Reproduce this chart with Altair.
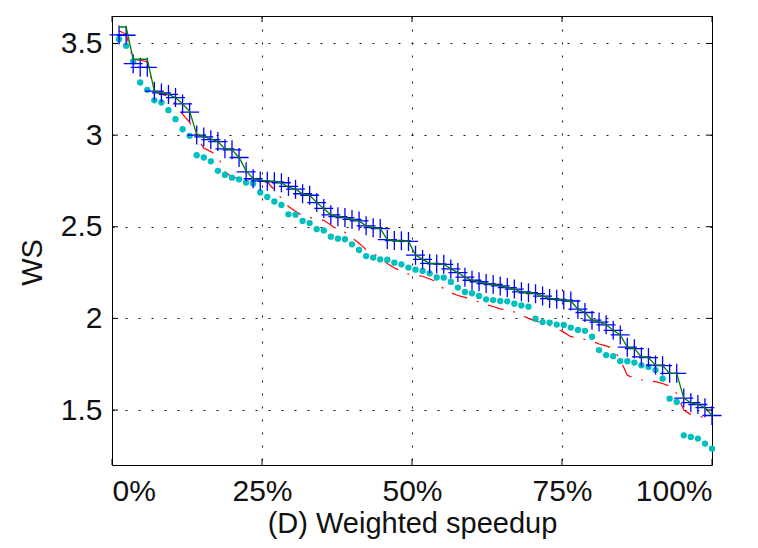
import altair as alt
import pandas as pd

N = 85
rank_pct = [i / N for i in range(1, N + 1)]

ws_plus = [3.547, 3.545, 3.39, 3.37, 3.37, 3.24, 3.23, 3.222, 3.205, 3.17,
           3.125, 3.0, 2.99, 2.975, 2.965, 2.925, 2.92, 2.878, 2.80, 2.762,
           2.75, 2.748, 2.745, 2.74, 2.72, 2.705, 2.68, 2.672, 2.632, 2.60,
           2.565, 2.555, 2.55, 2.54, 2.532, 2.505, 2.495, 2.49, 2.43, 2.425,
           2.423, 2.42, 2.345, 2.322, 2.30, 2.297, 2.295, 2.27, 2.25, 2.225,
           2.208, 2.2, 2.19, 2.185, 2.177, 2.168, 2.16, 2.145, 2.14, 2.135,
           2.122, 2.108, 2.104, 2.1, 2.095, 2.05, 2.032, 1.99, 1.98, 1.965,
           1.935, 1.91, 1.843, 1.835, 1.79, 1.786, 1.745, 1.742, 1.70, 1.70,
           1.565, 1.54, 1.53, 1.513, 1.47]

ws_line = [3.59, 3.59, 3.414, 3.414, 3.414, 3.24, 3.23, 3.222, 3.205, 3.17,
           3.13, 3.005, 2.99, 2.98, 2.965, 2.925, 2.92, 2.878, 2.805, 2.762,
           2.755, 2.75, 2.748, 2.74, 2.715, 2.705, 2.68, 2.672, 2.632, 2.60,
           2.565, 2.555, 2.55, 2.54, 2.532, 2.505, 2.495, 2.49, 2.43, 2.425,
           2.423, 2.42, 2.345, 2.322, 2.30, 2.297, 2.295, 2.27, 2.25, 2.225,
           2.208, 2.2, 2.19, 2.185, 2.177, 2.168, 2.16, 2.145, 2.14, 2.135,
           2.122, 2.108, 2.104, 2.1, 2.095, 2.05, 2.032, 1.99, 1.98, 1.965,
           1.935, 1.91, 1.843, 1.835, 1.79, 1.786, 1.745, 1.742, 1.70, 1.70,
           1.565, 1.54, 1.53, 1.513, 1.47]

ws_dashdot = [3.57, 3.55, 3.41, 3.41, 3.40, 3.24, 3.225, 3.21, 3.17, 3.115,
              3.07, 2.99, 2.93, 2.91, 2.885, 2.80, 2.77, 2.765, 2.76, 2.755,
              2.75, 2.745, 2.70, 2.655, 2.61, 2.585, 2.56, 2.55, 2.545, 2.535,
              2.51, 2.48, 2.47, 2.44, 2.41, 2.375, 2.355, 2.33, 2.30, 2.275,
              2.258, 2.242, 2.235, 2.23, 2.215, 2.20, 2.16, 2.14, 2.125, 2.115,
              2.10, 2.09, 2.075, 2.065, 2.052, 2.045, 2.035, 2.02, 2.0, 1.985,
              1.975, 1.96, 1.945, 1.925, 1.90, 1.893, 1.885, 1.875, 1.86, 1.85,
              1.835, 1.775, 1.69, 1.675, 1.665, 1.66, 1.655, 1.645, 1.63, 1.59,
              1.50, 1.475, 1.465, 1.46, 1.45]

ws_dots = [3.523, 3.487, 3.402, 3.287, 3.247, 3.19, 3.178, 3.136, 3.087, 3.032,
           2.996, 2.89, 2.878, 2.857, 2.805, 2.783, 2.768, 2.759, 2.741, 2.736,
           2.687, 2.663, 2.638, 2.619, 2.568, 2.566, 2.532, 2.52, 2.487, 2.48,
           2.446, 2.435, 2.432, 2.404, 2.373, 2.34, 2.332, 2.322, 2.32, 2.304,
           2.295, 2.277, 2.266, 2.259, 2.246, 2.223, 2.222, 2.199, 2.168, 2.144,
           2.137, 2.122, 2.104, 2.1, 2.095, 2.093, 2.08, 2.071, 2.064, 1.998,
           1.98, 1.977, 1.966, 1.964, 1.95, 1.937, 1.932, 1.90, 1.827, 1.80,
           1.794, 1.767, 1.766, 1.759, 1.744, 1.735, 1.718, 1.671, 1.562, 1.544,
           1.362, 1.353, 1.344, 1.317, 1.289]

x_ticks = [0, 0.25, 0.5, 0.75, 1.0]
y_ticks = [1.5, 2.0, 2.5, 3.0, 3.5]

df = pd.DataFrame({"x": rank_pct, "plus": ws_plus, "line": ws_line,
                   "dashdot": ws_dashdot, "dots": ws_dots})
xt_df = pd.DataFrame({"xt": x_ticks})
yt_df = pd.DataFrame({"yt": y_ticks})

W, H = 600, 449
FONT = "Liberation Sans"
xs = alt.Scale(domain=[0, 1], nice=False, zero=False)
ys = alt.Scale(domain=[1.2, 3.65], nice=False, zero=False)

common = dict(grid=True, gridDash=[2, 11], gridColor="#000", gridWidth=1,
              gridOpacity=0.9, ticks=False, tickSize=0, domain=False,
              labelFontSize=30, titleFontSize=29, labelColor="#111",
              titleColor="#111", titleFontWeight="normal", labelFont=FONT,
              titleFont=FONT)
x_axis = alt.Axis(values=x_ticks, format=".0%", title="(D) Weighted speedup",
                  labelPadding=11, titlePadding=3, **common)
y_axis = alt.Axis(values=y_ticks, format=".1~f", title="WS",
                  labelPadding=10, titleX=-80, titleY=246, titleAngle=270,
                  titleAlign="center", titleBaseline="middle", **common)


def X(field):
    return alt.X(field, type="quantitative", scale=xs, axis=x_axis)


def Y(field):
    return alt.Y(field, type="quantitative", scale=ys, axis=y_axis)


base = alt.Chart(df)

red = base.mark_line(color="#FF0000", strokeWidth=1.2,
                     strokeDash=[16, 10, 2, 10]).encode(x=X("x"), y=Y("dashdot"))

cyan = base.mark_circle(color="#00BFBF", size=40, opacity=1).encode(
    x=X("x"), y=Y("dots"))

blue = base.mark_point(shape="M-1,0H1M0,-1V1", filled=False, color="#0000FF",
                       strokeWidth=1.3, size=361, opacity=1).encode(
    x=X("x"), y=Y("plus"))

green = base.mark_line(color="#008000", strokeWidth=1.3).encode(
    x=X("x"), y=Y("line"))

tick_style = dict(color="#000", strokeWidth=1)
ytick_l = alt.Chart(yt_df).mark_rule(**tick_style).encode(
    y=Y("yt"), x=alt.value(0), x2=alt.value(6))
ytick_r = alt.Chart(yt_df).mark_rule(**tick_style).encode(
    y=Y("yt"), x=alt.value(W - 6), x2=alt.value(W))
xtick_b = alt.Chart(xt_df).mark_rule(**tick_style).encode(
    x=X("xt"), y=alt.value(H - 6), y2=alt.value(H))
xtick_t = alt.Chart(xt_df).mark_rule(**tick_style).encode(
    x=X("xt"), y=alt.value(0), y2=alt.value(6))

chart = alt.layer(red, cyan, blue, green, ytick_l, ytick_r, xtick_b, xtick_t).properties(
    width=W, height=H,
    autosize=alt.AutoSizeParams(type="none"),
    padding={"left": 104, "top": 8, "right": 38, "bottom": 75},
).configure_view(stroke="#000", strokeWidth=1)

chart.save("out.html", embed_options={"renderer": "svg", "actions": False})
